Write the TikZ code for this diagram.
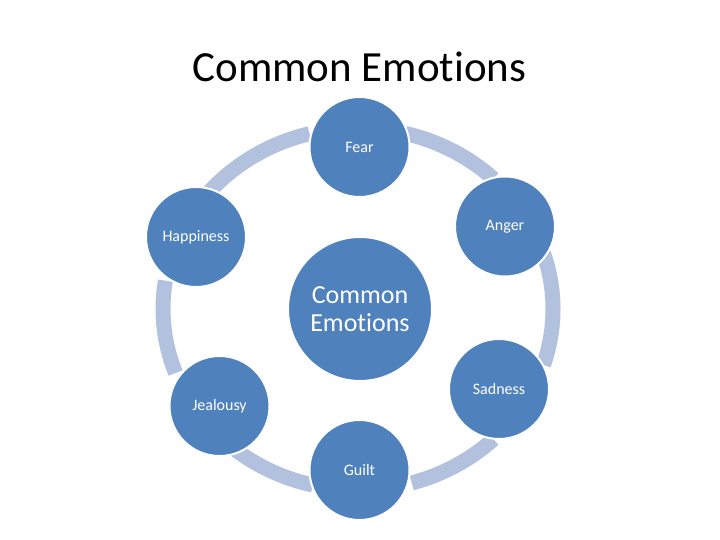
\documentclass[tikz,border=0pt]{standalone}
\usepackage{fontspec}
\setmainfont{Carlito}[Ligatures={NoCommon,NoContextual}]
\definecolor{circblue}{RGB}{79,129,189}
\definecolor{ringblue}{RGB}{177,193,222}
\begin{document}
\begin{tikzpicture}[x=1pt,y=1pt,
  emo/.style={circle,fill=circblue,draw=white,line width=2pt,inner sep=0pt,minimum size=100pt,text=white,font=\fontsize{16}{19}\selectfont},
  hub/.style={circle,fill=circblue,draw=white,line width=2pt,inner sep=0pt,minimum size=144pt,text=white,align=center,font=\fontsize{26}{28}\selectfont},
  ringseg/.style={draw=ringblue,line width=15pt,line cap=butt}]
\useasboundingbox (0,0) rectangle (720,540);
\coordinate (c) at (358,231);
% ring segments
\foreach \a/\b in {46/76, -18/18, -74/-46, 230/256.6, 171/200.7, 104.4/139.7}{
  \draw[ringseg] (c) ++(\a:195pt and 181pt) arc[start angle=\a, end angle=\b, x radius=195pt, y radius=181pt];
}
\node[anchor=base,font=\fontsize{43}{48}\selectfont] (title) at (359.5,458) {Common Emotions};
\node[hub] (center) at (360,231) {Common\\Emotions};
\node[emo] (fear) at (359.5,393) {Fear};
\node[emo] (anger) at (505,313.5) {Anger};
\node[emo] (sadness) at (499,151) {Sadness};
\node[emo] (guilt) at (359.5,70) {Guilt};
\node[emo] (jealousy) at (219.5,134) {Jealousy};
\node[emo] (happiness) at (196,303) {Happiness};
\end{tikzpicture}
\end{document}
